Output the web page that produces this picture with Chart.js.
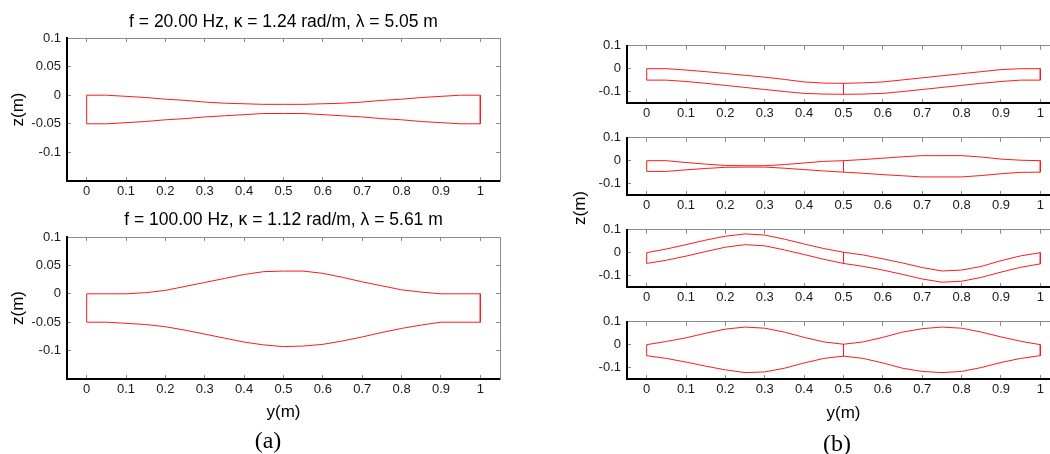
<!DOCTYPE html>
<html>
<head>
<meta charset="utf-8">
<script src="https://cdn.jsdelivr.net/npm/chart.js@4.4.0/dist/chart.umd.min.js"></script>
<style>
  html, body { margin: 0; padding: 0; background: #fff; }
  body { width: 1050px; height: 454px; overflow: hidden; position: relative; }
  canvas { position: absolute; }
  .lbl { position: absolute; white-space: nowrap; color: #000; transform: translate(-50%, -50%); }
  .sans { font-family: "Liberation Sans", Arial, sans-serif; font-size: 17px; }
  .serif { font-family: "Liberation Serif", "Times New Roman", serif; font-size: 24px; }
</style>
</head>
<body>
<canvas id="a1"></canvas>
<canvas id="a2"></canvas>
<canvas id="b1"></canvas>
<canvas id="b2"></canvas>
<canvas id="b3"></canvas>
<canvas id="b4"></canvas>
<div class="lbl sans" style="left:580px; top:208px; transform: translate(-50%, -50%) rotate(-90deg);">z(m)</div>
<div class="lbl serif" style="left:268px; top:440px;">(a)</div>
<div class="lbl serif" style="left:837px; top:443px;">(b)</div>
<script>
// position along the plate, y (m)
const yPos = [0, 0.05, 0.1, 0.15, 0.2, 0.25, 0.3, 0.35, 0.4, 0.45, 0.5, 0.55, 0.6, 0.65, 0.7, 0.75, 0.8, 0.85, 0.9, 0.95, 1];
const xTicks = [0, 0.1, 0.2, 0.3, 0.4, 0.5, 0.6, 0.7, 0.8, 0.9, 1];
const zTicksA = [-0.1, -0.05, 0, 0.05, 0.1];
const zTicksB = [-0.1, 0, 0.1];

const titleA1 = 'f = 20.00 Hz, κ = 1.24 rad/m, λ = 5.05 m';
const titleA2 = 'f = 100.00 Hz, κ = 1.12 rad/m, λ = 5.61 m';

// (a) upper / lower surface z (m)
const a1Top = [0, 0, -0.002, -0.004, -0.007, -0.009, -0.012, -0.014, -0.015, -0.016, -0.016, -0.016, -0.015, -0.014, -0.012, -0.009, -0.007, -0.004, -0.002, 0, 0];
const a1Bot = [-0.05, -0.05, -0.048, -0.046, -0.043, -0.041, -0.038, -0.036, -0.034, -0.032, -0.032, -0.032, -0.034, -0.036, -0.038, -0.041, -0.043, -0.046, -0.048, -0.05, -0.05];
const a2Top = [0, 0, 0, 0.002, 0.006, 0.013, 0.02, 0.027, 0.034, 0.039, 0.04, 0.04, 0.036, 0.029, 0.021, 0.014, 0.007, 0.003, 0, 0, 0];
const a2Bot = [-0.05, -0.05, -0.052, -0.054, -0.058, -0.064, -0.071, -0.078, -0.085, -0.09, -0.093, -0.092, -0.089, -0.083, -0.076, -0.068, -0.061, -0.055, -0.05, -0.05, -0.05];

// (b) four modes, two elements split at y = 0.5
const b1Top = [0, 0, -0.006, -0.013, -0.021, -0.029, -0.037, -0.047, -0.058, -0.063, -0.064, -0.062, -0.058, -0.049, -0.04, -0.031, -0.022, -0.013, -0.004, 0, 0];
const b1Bot = [-0.05, -0.05, -0.056, -0.064, -0.073, -0.082, -0.091, -0.1, -0.108, -0.111, -0.112, -0.111, -0.108, -0.1, -0.091, -0.082, -0.073, -0.064, -0.056, -0.05, -0.05];
const b2Top = [0, 0, -0.008, -0.015, -0.021, -0.022, -0.022, -0.017, -0.01, -0.003, 0, 0.005, 0.011, 0.017, 0.022, 0.022, 0.022, 0.016, 0.007, 0.002, 0];
const b2Bot = [-0.047, -0.047, -0.04, -0.034, -0.029, -0.028, -0.028, -0.033, -0.039, -0.045, -0.05, -0.055, -0.061, -0.066, -0.071, -0.071, -0.071, -0.065, -0.057, -0.051, -0.05];
const b3Top = [0, 0.016, 0.035, 0.055, 0.072, 0.082, 0.077, 0.059, 0.038, 0.018, 0.002, -0.01, -0.027, -0.045, -0.065, -0.08, -0.076, -0.06, -0.035, -0.014, 0];
const b3Bot = [-0.047, -0.033, -0.015, 0.005, 0.024, 0.035, 0.03, 0.012, -0.008, -0.029, -0.047, -0.06, -0.076, -0.095, -0.115, -0.129, -0.125, -0.108, -0.085, -0.064, -0.049];
const b4Top = [0, 0.014, 0.03, 0.05, 0.068, 0.077, 0.072, 0.055, 0.032, 0.012, 0.002, 0.012, 0.032, 0.055, 0.07, 0.077, 0.072, 0.055, 0.034, 0.015, 0];
const b4Bot = [-0.048, -0.06, -0.076, -0.094, -0.11, -0.122, -0.119, -0.103, -0.08, -0.06, -0.05, -0.06, -0.08, -0.103, -0.117, -0.122, -0.117, -0.1, -0.078, -0.06, -0.048];

Chart.defaults.font.family = '"Liberation Sans", Arial, sans-serif';

// closed outline: upper surface forward, lower surface back
function outline(top, bot) {
  const pts = [];
  yPos.forEach((y, i) => pts.push({x: y, y: top[i]}));
  for (let i = yPos.length - 1; i >= 0; i--) pts.push({x: yPos[i], y: bot[i]});
  pts.push({x: yPos[0], y: top[0]});
  return pts;
}

function panel(id, o) {
  const cv = document.getElementById(id);
  const [cl, ct, cw, ch] = o.canvas;
  const [bl, bt, br, bb] = o.box;
  cv.style.left = cl + 'px';
  cv.style.top = ct + 'px';
  cv.width = cw;
  cv.height = ch;
  const leftW = bl - cl, topH = bt - ct, rightW = cl + cw - br, botH = ct + ch - bb;

  const datasets = [{data: outline(o.top, o.bot)}];
  if (o.split) {
    const m = yPos.indexOf(0.5);
    datasets.push({data: [{x: 0.5, y: o.top[m]}, {x: 0.5, y: o.bot[m]}]});
  }
  datasets.forEach(d => Object.assign(d, {showLine: true, borderColor: '#ff1a1a', borderWidth: 1, pointRadius: 0, tension: 0, fill: false}));

  const setTicks = vals => scale => { scale.ticks = vals.map(v => ({value: v})); };
  const gridIn = {drawOnChartArea: false, drawTicks: true, tickLength: -4, tickColor: '#8c8c8c', tickWidth: 1};
  const lab = {font: {size: 13}, color: '#1a1a1a', callback: v => String(v)};

  let titleCfg = {display: false};
  let padTop = topH;
  if (o.title) {
    const fs = 17.5, lh = fs * 1.2;
    const pt = o.titleY - ct - lh / 2;
    titleCfg = {display: true, fullSize: false, text: o.title, color: '#000', font: {size: fs, weight: 'normal'},
      padding: {top: pt, bottom: topH - pt - lh}};
    padTop = 0;
  }
  const axLh = 17 * 1.2;
  const xTitle = o.xTitleY ? {display: true, text: 'y(m)', color: '#000', font: {size: 17},
    padding: {top: 0, bottom: ct + ch - o.xTitleY - axLh / 2}} : {display: false};
  const zTitle = o.zTitleX ? {display: true, text: 'z(m)', color: '#000', font: {size: 17},
    padding: {top: o.zTitleX - cl - axLh / 2, bottom: 0}} : {display: false};

  new Chart(cv, {
    type: 'scatter',
    data: {datasets},
    options: {
      responsive: false,
      animation: false,
      layout: {padding: {left: 0, top: padTop, right: rightW, bottom: 0}},
      plugins: {legend: {display: false}, tooltip: {enabled: false}, title: titleCfg},
      scales: {
        x: {type: 'linear', position: 'bottom', min: -0.05, max: 1.05,
          afterBuildTicks: setTicks(xTicks), afterFit: s => { s.height = botH; },
          grid: gridIn, border: {color: '#000', width: 2},
          ticks: {...lab, padding: 7, maxRotation: 0, autoSkip: false},
          title: xTitle},
        x2: {type: 'linear', position: 'top', min: -0.05, max: 1.05,
          afterBuildTicks: setTicks(xTicks), afterFit: s => { s.height = 0; },
          grid: gridIn, border: {color: '#8c8c8c', width: 1}, ticks: {display: false}},
        y: {type: 'linear', position: 'left', min: -0.15, max: 0.1,
          afterBuildTicks: setTicks(o.zTicks), afterFit: s => { s.width = leftW; },
          grid: gridIn, border: {color: '#000', width: 2},
          ticks: {...lab, padding: 10},
          title: zTitle},
        y2: {type: 'linear', position: 'right', min: -0.15, max: 0.1,
          afterBuildTicks: setTicks(o.zTicks), afterFit: s => { s.width = 0; },
          grid: gridIn, border: {color: '#8c8c8c', width: 1}, ticks: {display: false}}
      }
    }
  });
}

panel('a1', {canvas: [0, 0, 520, 215], box: [67, 38, 500, 181], top: a1Top, bot: a1Bot,
  zTicks: zTicksA, title: titleA1, titleY: 22, zTitleX: 18});
panel('a2', {canvas: [0, 198, 520, 244], box: [67, 237, 500, 379], top: a2Top, bot: a2Bot,
  zTicks: zTicksA, title: titleA2, titleY: 220, zTitleX: 18, xTitleY: 412});
panel('b1', {canvas: [560, 28, 515, 100], box: [627, 38, 1060, 103], top: b1Top, bot: b1Bot, zTicks: zTicksB, split: true});
panel('b2', {canvas: [560, 120, 515, 100], box: [627, 130, 1060, 195], top: b2Top, bot: b2Bot, zTicks: zTicksB, split: true});
panel('b3', {canvas: [560, 212, 515, 100], box: [627, 222, 1060, 287], top: b3Top, bot: b3Bot, zTicks: zTicksB, split: true});
panel('b4', {canvas: [560, 304, 515, 138], box: [627, 314, 1060, 379], top: b4Top, bot: b4Bot, zTicks: zTicksB, split: true, xTitleY: 413});
</script>
</body>
</html>
